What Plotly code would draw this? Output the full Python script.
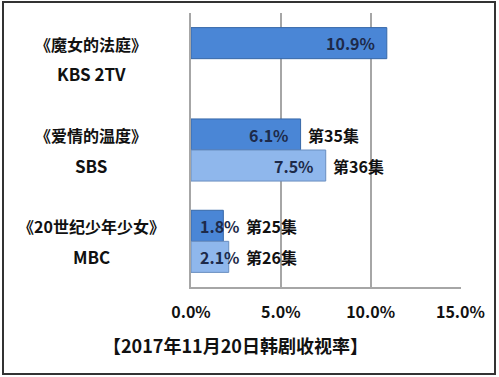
import plotly.graph_objects as go

# ---- data ----
categories = ["KBS", "SBS", "MBC"]
drama_names = ["《魔女的法庭》", "《爱情的温度》", "《20世纪少年少女》"]
networks = ["KBS 2TV", "SBS", "MBC"]
ep1_values = [10.9, 6.1, 1.8]
ep1_labels = ["", "第35集", "第25集"]
ep2_values = [None, 7.5, 2.1]
ep2_labels = ["", "第36集", "第26集"]
x_ticks = [0, 5, 10, 15]
title_text = "【2017年11月20日韩剧收视率】"

FONT = "Noto Sans CJK SC"
W, H = 499, 377
ML, MR, MT, MB = 191, 38, 13, 90
PW, PH = W - ML - MR, H - MT - MB

fig = go.Figure()
fig.add_trace(go.Bar(
    y=categories, x=ep1_values, orientation="h",
    marker=dict(color="#4a86d6", line=dict(color="#3768a8", width=1)),
    hoverinfo="skip", showlegend=False,
))
fig.add_trace(go.Bar(
    y=categories, x=ep2_values, orientation="h",
    marker=dict(color="#8fb7ec", line=dict(color="#6a8fc0", width=1)),
    hoverinfo="skip", showlegend=False,
))

annotations = []
bar_shift = 15.5
for vals, eps, ys in ((ep1_values, ep1_labels, bar_shift), (ep2_values, ep2_labels, -bar_shift)):
    for cat, v, ep in zip(categories, vals, eps):
        if v is None:
            continue
        small = v < 3
        annotations.append(dict(
            x=0 if small else v, y=cat, xref="x", yref="y",
            text="<b>%.1f%%</b>" % v, showarrow=False,
            xanchor="left" if small else "right",
            xshift=7 if small else -10, yshift=ys,
            font=dict(family=FONT, size=16, color="#1d2a4a"),
        ))
        if ep:
            annotations.append(dict(
                x=0 if small else v, y=cat, xref="x", yref="y",
                text="<b>%s</b>" % ep, showarrow=False,
                xanchor="left",
                xshift=53 if small else 5, yshift=ys,
                font=dict(family=FONT, size=16, color="#111111"),
            ))

label_x = (91 - ML) / PW
for cat, name, net in zip(categories, drama_names, networks):
    annotations.append(dict(
        x=label_x, y=cat, xref="paper", yref="y", text="<b>%s</b>" % name,
        showarrow=False, xanchor="center", yshift=15,
        font=dict(family=FONT, size=16, color="#111111"),
    ))
    annotations.append(dict(
        x=label_x, y=cat, xref="paper", yref="y", text="<b>%s</b>" % net,
        showarrow=False, xanchor="center", yshift=-15,
        font=dict(family=FONT, size=17, color="#111111"),
    ))

annotations.append(dict(
    x=(235 - ML) / PW, y=(287 - 345) / PH, xref="paper", yref="paper",
    text="<b>%s</b>" % title_text, showarrow=False, xanchor="center", yanchor="middle",
    font=dict(family=FONT, size=18, color="#111111"),
))

fig.update_layout(
    width=W, height=H,
    margin=dict(l=ML, r=MR, t=MT, b=MB),
    paper_bgcolor="white", plot_bgcolor="white",
    barmode="group", bargap=0.32, bargroupgap=0,
    annotations=annotations,
    shapes=[dict(
        type="rect", xref="paper", yref="paper",
        x0=(3 - ML) / PW, x1=(495 - ML) / PW,
        y0=(287 - 374) / PH, y1=1 + (MT - 2) / PH,
        line=dict(color="#333333", width=2),
    )],
    xaxis=dict(
        range=[0, 15.03], tickvals=x_ticks,
        ticktext=["<b>%.1f%%</b>" % t for t in x_ticks],
        showgrid=True, gridcolor="#a6a6a6", gridwidth=1.5,
        showline=True, linecolor="#a6a6a6", linewidth=1.5,
        zeroline=False, ticks="", ticklabelstandoff=10,
        tickfont=dict(family=FONT, size=16, color="#111111"),
        fixedrange=True,
    ),
    yaxis=dict(
        categoryorder="array", categoryarray=categories, autorange="reversed",
        showticklabels=False, showgrid=False, zeroline=False,
        showline=True, linecolor="#a6a6a6", linewidth=1.5, ticks="",
        fixedrange=True,
    ),
)

fig.write_html(
    "out.html",
    config={"displayModeBar": False},
    post_script="document.body.style.margin='0';document.body.style.overflow='hidden';",
)
